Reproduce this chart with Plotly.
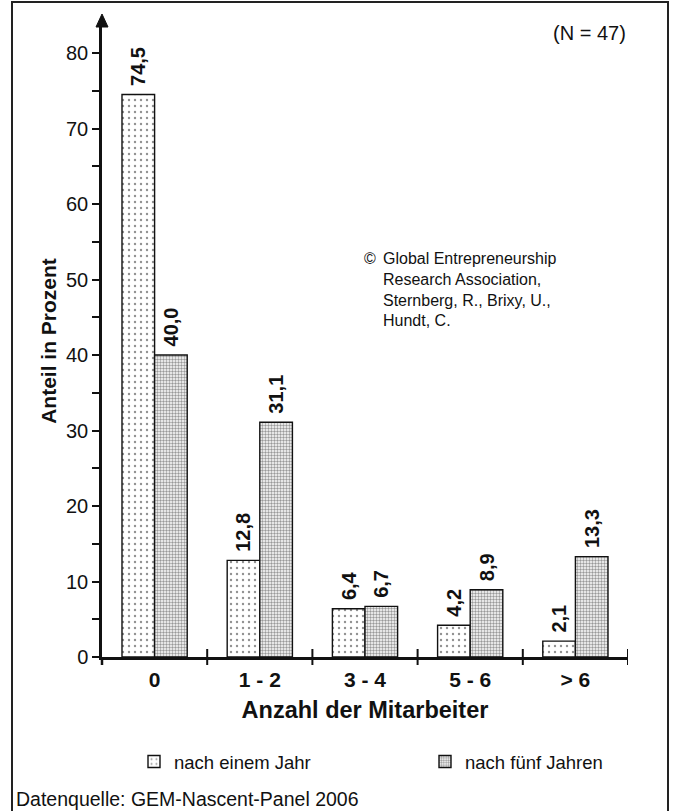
import plotly.graph_objects as go

categories = ["0", "1 - 2", "3 - 4", "5 - 6", "> 6"]
nach_einem_jahr = [74.5, 12.8, 6.4, 4.2, 2.1]
nach_fuenf_jahren = [40.0, 31.1, 6.7, 8.9, 13.3]
series_names = ["nach einem Jahr", "nach fünf Jahren"]
y_tickvals = [0, 10, 20, 30, 40, 50, 60, 70, 80]

FONT = "Liberation Sans, Arial, sans-serif"
xpos = list(range(len(categories)))

def fmt(v):
    return "\u00a0" + f"{v:.1f}".replace(".", ",")

label_font = dict(family=FONT, size=20, color="#111", weight="bold")

fig = go.Figure()
fig.add_trace(go.Bar(
    x=xpos, y=nach_einem_jahr, name=series_names[0], legend="legend",
    text=[fmt(v) for v in nach_einem_jahr], textposition="outside",
    textangle=-90, constraintext="none", cliponaxis=False,
    textfont=label_font, hoverinfo="skip",
    marker=dict(color="white", line=dict(color="#111", width=1.4),
                pattern=dict(shape=".", size=6, solidity=0.12,
                             fgcolor="#222", bgcolor="white")),
))
fig.add_trace(go.Bar(
    x=xpos, y=nach_fuenf_jahren, name=series_names[1], legend="legend2",
    text=[fmt(v) for v in nach_fuenf_jahren], textposition="outside",
    textangle=-90, constraintext="none", cliponaxis=False,
    textfont=label_font, hoverinfo="skip",
    marker=dict(color="white", line=dict(color="#111", width=1.4),
                pattern=dict(shape=".", size=3, solidity=0.5,
                             fgcolor="#333", bgcolor="white")),
))

# plot area pixel geometry
L, R, T, B = 102, 628, 25, 657
W, H = 674, 811
pw, ph = R - L, B - T
def px(x):
    return (x - L) / pw
def py(y):
    return (B - y) / ph

shapes = []
# outer border
shapes.append(dict(type="rect", xref="paper", yref="paper",
                   x0=px(12), x1=px(668), y0=py(815), y1=py(2),
                   line=dict(color="#222", width=2), layer="below"))
# divider ticks across x axis
for k in range(len(categories)):
    shapes.append(dict(type="line", xref="x", yref="paper",
                       x0=k + 0.5, x1=k + 0.5, y0=py(665), y1=py(649),
                       line=dict(color="#111", width=2), layer="above"))
# y axis extension below zero
shapes.append(dict(type="line", xref="paper", yref="paper",
                   x0=0, x1=0, y0=py(665), y1=0,
                   line=dict(color="#111", width=2.5)))
# arrow head on top of y axis
shapes.append(dict(type="path", xref="paper", yref="paper",
                   path=f"M {px(96)},{py(27)} L {px(108)},{py(27)} L {px(102)},{py(14)} Z",
                   fillcolor="#111", line=dict(color="#111", width=1)))

annotations = [
    dict(x=px(628), xref="paper", y=py(33), yref="paper", text="(N = 47)",
         showarrow=False, xanchor="right", yanchor="middle",
         font=dict(family=FONT, size=20, color="#111")),
    dict(x=px(362), xref="paper", y=py(248), yref="paper", text="©",
         showarrow=False, xanchor="left", yanchor="top",
         font=dict(family=FONT, size=16, color="#111")),
    dict(x=px(381), xref="paper", y=py(248), yref="paper",
         text="Global Entrepreneurship<br>Research Association,<br>Sternberg, R., Brixy, U.,<br>Hundt, C.",
         showarrow=False, xanchor="left", yanchor="top", align="left",
         font=dict(family=FONT, size=16, color="#111")),
    dict(x=px(14), xref="paper", y=py(799), yref="paper",
         text="Datenquelle: GEM-Nascent-Panel 2006",
         showarrow=False, xanchor="left", yanchor="middle",
         font=dict(family=FONT, size=19.5, color="#111")),
]

leg_common = dict(orientation="h", yanchor="middle", xanchor="left",
                  xref="paper", yref="paper",
                  font=dict(family=FONT, size=18.5, color="#111"),
                  bgcolor="rgba(0,0,0,0)")

fig.update_layout(
    width=W, height=H,
    margin=dict(l=L, r=W - R, t=T, b=H - B),
    paper_bgcolor="white", plot_bgcolor="white",
    barmode="group", bargap=0.38, bargroupgap=0,
    font=dict(family=FONT, color="#111"),
    shapes=shapes, annotations=annotations,
    showlegend=True,
    legend=dict(x=px(134), y=py(762), **leg_common),
    legend2=dict(x=px(425), y=py(762), **leg_common),
    xaxis=dict(range=[-0.5, 4.5], tickvals=xpos, ticktext=categories,
               ticks="outside", ticklen=2, tickcolor="rgba(0,0,0,0)",
               tickfont=dict(family=FONT, size=21, color="#111", weight="bold"),
               showline=True, linecolor="#111", linewidth=2.5,
               showgrid=False, zeroline=False,
               title=dict(text="<b>Anzahl der Mitarbeiter</b>", standoff=12,
                          font=dict(family=FONT, size=23.5, color="#111"))),
    yaxis=dict(range=[0, (B - T) / 7.55], tickvals=y_tickvals,
               ticks="outside", ticklen=7, tickwidth=1.5, tickcolor="#111",
               minor=dict(dtick=5, tick0=0, ticks="outside", ticklen=7,
                          tickwidth=1.5, tickcolor="#111"),
               tickfont=dict(family=FONT, size=20, color="#111"),
               showline=True, linecolor="#111", linewidth=2.5,
               showgrid=False, zeroline=False,
               title=dict(text="<b>Anteil in Prozent</b>", standoff=4,
                          font=dict(family=FONT, size=21, color="#111"))),
)

fig.write_html("out.html", config={"displayModeBar": False},
               post_script="document.body.style.margin='0';")
